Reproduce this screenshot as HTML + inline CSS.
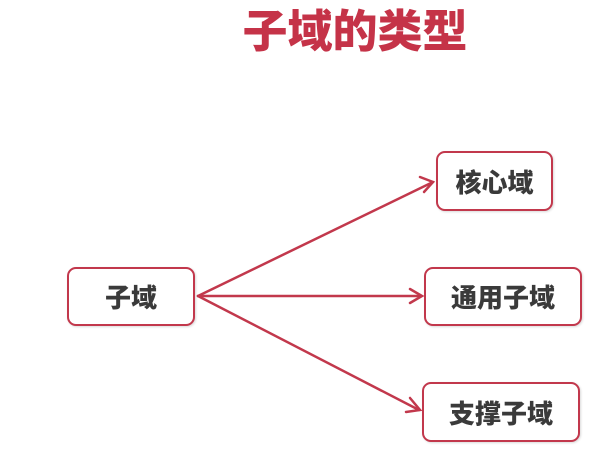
<!DOCTYPE html>
<html><head><meta charset="utf-8"><style>
body{margin:0;width:611px;height:465px;background:#fff;overflow:hidden;position:relative;font-family:"Liberation Sans","Noto Sans CJK SC",sans-serif}
.t{position:absolute;left:205px;top:6px;width:300px;text-align:center;font-size:45px;font-weight:900;color:#c53348;line-height:52px}
.b{position:absolute;border:2.5px solid #c2384c;border-radius:9px;box-sizing:border-box;display:flex;align-items:center;justify-content:center;font-size:26px;font-weight:900;color:#3a3a3a;background:#fff;box-shadow:1px 1px 2px rgba(0,0,0,.15)}
</style></head><body>
<div class="t">子域的类型</div>
<svg width="611" height="465" style="position:absolute;left:0;top:0">
<g stroke="#c2384c" stroke-width="2.5" fill="none" stroke-linecap="round">
<line x1="198" y1="296" x2="433" y2="182"/>
<line x1="198" y1="296" x2="421" y2="296"/>
<line x1="198" y1="296" x2="419" y2="410"/>
<polyline points="420,177 433,182 424,192"/>
<polyline points="410,289 422,296 410,303"/>
<polyline points="410,398 420,410 406,412"/>
</g></svg>
<div class="b" style="left:67px;top:267px;width:128px;height:59px">子域</div>
<div class="b" style="left:436px;top:151px;width:117px;height:60px">核心域</div>
<div class="b" style="left:424px;top:267px;width:158px;height:59px">通用子域</div>
<div class="b" style="left:422px;top:382px;width:158px;height:60px">支撑子域</div>
</body></html>
